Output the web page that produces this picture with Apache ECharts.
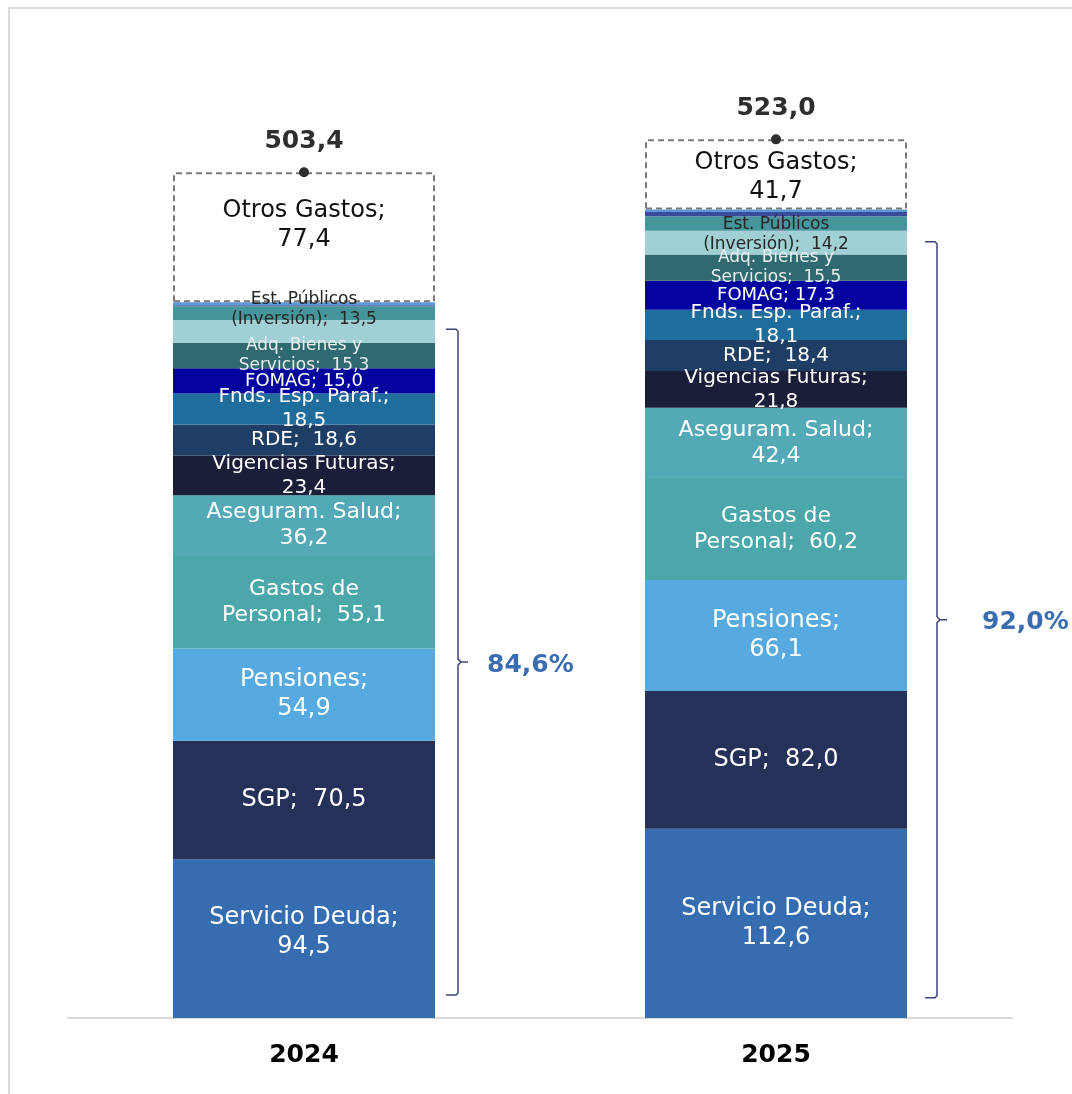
<!DOCTYPE html>
<html>
<head>
<meta charset="utf-8">
<script src="https://cdn.jsdelivr.net/npm/echarts@6/dist/echarts.min.js"></script>
<style>
  html, body { margin: 0; padding: 0; background: #ffffff; }
  #main { width: 1072px; height: 1094px; }
</style>
</head>
<body>
<div id="main"></div>
<script>
// datos (miles de millones)
const years = ['2024', '2025'];
const servicioDeuda = [94.5, 112.6];
const sgp = [70.5, 82.0];
const pensiones = [54.9, 66.1];
const gastosPersonal = [55.1, 60.2];
const asegSalud = [36.2, 42.4];
const vigFuturas = [23.4, 21.8];
const rde = [18.6, 18.4];
const fndsParaf = [18.5, 18.1];
const fomag = [15.0, 17.3];
const adqBienes = [15.3, 15.5];
const estPublicos = [13.5, 14.2];
// segmentos delgados sin etiqueta
const restoA = [8.2, 8.6];
const restoB = [0.6, 2.6];
const restoC = [1.7, 1.5];
const otrosGastos = [77.4, 41.7];
const totals = [503.4, 523.0];
// rango de la llave
const bracketLow = [13.7, 12.1];
const bracketHigh = [410, 462];

const FONT = 'DejaVu Sans';
const BAR_W = 262;

const fmt = v => v.toFixed(1).replace('.', ',');

// name, values, color, label template, font size, text color
const segments = [
  ['Servicio Deuda', servicioDeuda, '#356DB0', 'Servicio Deuda;\n{v}', 24, '#ffffff'],
  ['SGP', sgp, '#263159', 'SGP;  {v}', 24, '#ffffff'],
  ['Pensiones', pensiones, '#56AAE0', 'Pensiones;\n{v}', 24, '#ffffff'],
  ['Gastos de Personal', gastosPersonal, '#4BA7A9', 'Gastos de\nPersonal;  {v}', 22, '#ffffff'],
  ['Aseguram. Salud', asegSalud, '#53A9B6', 'Aseguram. Salud;\n{v}', 22, '#ffffff'],
  ['Vigencias Futuras', vigFuturas, '#1B1E38', 'Vigencias Futuras;\n{v}', 20, '#ffffff'],
  ['RDE', rde, '#1F3E66', 'RDE;  {v}', 20, '#ffffff'],
  ['Fnds. Esp. Paraf.', fndsParaf, '#1F6D9D', 'Fnds. Esp. Paraf.;\n{v}', 20, '#ffffff'],
  ['FOMAG', fomag, '#02029E', 'FOMAG; {v}', 18, '#ffffff'],
  ['Adq. Bienes y Servicios', adqBienes, '#2E6A6F', 'Adq. Bienes y\nServicios;  {v}', 17, '#E8EEF0'],
  ['Est. Públicos (Inversión)', estPublicos, '#A0D0D6', 'Est. Públicos\n(Inversión);  {v}', 17, '#262626'],
  ['Resto A', restoA, '#46959A', null],
  ['Resto B', restoB, '#3C4B9C', null],
  ['Resto C', restoC, '#5A9AD8', null]
];

// desplazamiento vertical de algunas etiquetas (px)
const labelShift = {
  'Servicio Deuda': [-6, 0],
  'Est. Públicos (Inversión)': [-22, -8],
  'Otros Gastos': [-12, 3]
};

const bracketGap = [23, 30];
const pctGap = [29, 45];

const series = segments.map(([name, values, color, tpl, size, txt]) => {
  const shift = labelShift[name] || [0, 0];
  return {
    name: name,
    type: 'bar',
    stack: 'total',
    barWidth: BAR_W,
    itemStyle: { color: color },
    label: tpl ? {
      show: true,
      position: 'inside',
      fontFamily: FONT,
      fontSize: size,
      lineHeight: Math.round(size * 1.2),
      color: txt,
      align: 'center',
      formatter: p => tpl.replace('{v}', fmt(p.value))
    } : { show: false },
    data: values.map((v, i) => ({ value: v, label: { offset: [0, shift[i]] } }))
  };
});

series.push({
  name: 'Otros Gastos',
  type: 'bar',
  stack: 'total',
  barWidth: BAR_W,
  itemStyle: {
    color: '#ffffff',
    borderColor: '#7A7A7A',
    borderWidth: 2,
    borderType: [6, 4]
  },
  label: {
    show: true,
    position: 'inside',
    fontFamily: FONT,
    fontSize: 24,
    lineHeight: 29,
    color: '#111111',
    formatter: p => 'Otros Gastos;\n' + fmt(p.value)
  },
  data: otrosGastos.map((v, i) => ({ value: v, label: { offset: [0, labelShift['Otros Gastos'][i]] } }))
});

// total
series.push({
  name: 'Total',
  type: 'scatter',
  symbol: 'circle',
  symbolSize: 10,
  z: 5,
  itemStyle: { color: '#2E2E2E', opacity: 1 },
  label: {
    show: true,
    position: 'top',
    distance: 13,
    fontFamily: FONT,
    fontSize: 25,
    fontWeight: 'bold',
    color: '#2E2E2E',
    formatter: p => fmt(p.value)
  },
  data: totals
});

// llaves + porcentaje
series.push({
  name: 'Llave',
  type: 'custom',
  clip: false,
  z: 4,
  encode: { x: 0, y: [1, 2] },
  data: years.map((y, i) => [i, bracketLow[i], bracketHigh[i]]),
  renderItem: (params, api) => {
    const i = params.dataIndex;
    const lo = api.coord([api.value(0), api.value(1)]);
    const hi = api.coord([api.value(0), api.value(2)]);
    const x = lo[0] + BAR_W / 2 + bracketGap[i];
    const yB = lo[1], yT = hi[1], yM = (yB + yT) / 2;
    const pct = (totals[i] - otrosGastos[i]) / totals[i] * 100;
    const st = { stroke: '#3B4577', lineWidth: 1.5, fill: null };
    return {
      type: 'group',
      children: [
        { type: 'polyline', shape: { points: [[x - 12, yT], [x - 2, yT], [x, yT + 2], [x, yM - 3], [x + 3, yM], [x + 10, yM]] }, style: st },
        { type: 'polyline', shape: { points: [[x + 3, yM], [x, yM + 3], [x, yB - 2], [x - 2, yB], [x - 12, yB]] }, style: st },
        {
          type: 'text',
          x: x + pctGap[i],
          y: yM + 3,
          style: {
            text: fmt(pct) + '%',
            fontFamily: FONT,
            fontSize: 25,
            fontWeight: 'bold',
            fill: '#3A6CB0',
            align: 'left',
            verticalAlign: 'middle'
          }
        }
      ]
    };
  }
});

const option = {
  backgroundColor: '#ffffff',
  animation: false,
  graphic: [{
    type: 'rect',
    shape: { x: 9, y: 8, width: 1090, height: 1100 },
    style: { fill: null, stroke: '#DADADA', lineWidth: 2 },
    silent: true
  }],
  grid: { left: 68, right: 60, top: 10, bottom: 76 },
  xAxis: {
    type: 'category',
    data: years,
    axisLine: { lineStyle: { color: '#D9D9D9', width: 2 } },
    axisTick: { show: false },
    axisLabel: {
      margin: 22,
      fontFamily: FONT,
      fontSize: 25,
      fontWeight: 'bold',
      lineHeight: 30,
      color: '#000000'
    }
  },
  yAxis: {
    type: 'value',
    min: 0,
    max: 600,
    show: false,
    splitLine: { show: false }
  },
  series: series
};

const myChart = echarts.init(document.getElementById('main'));
myChart.setOption(option);
</script>
</body>
</html>
